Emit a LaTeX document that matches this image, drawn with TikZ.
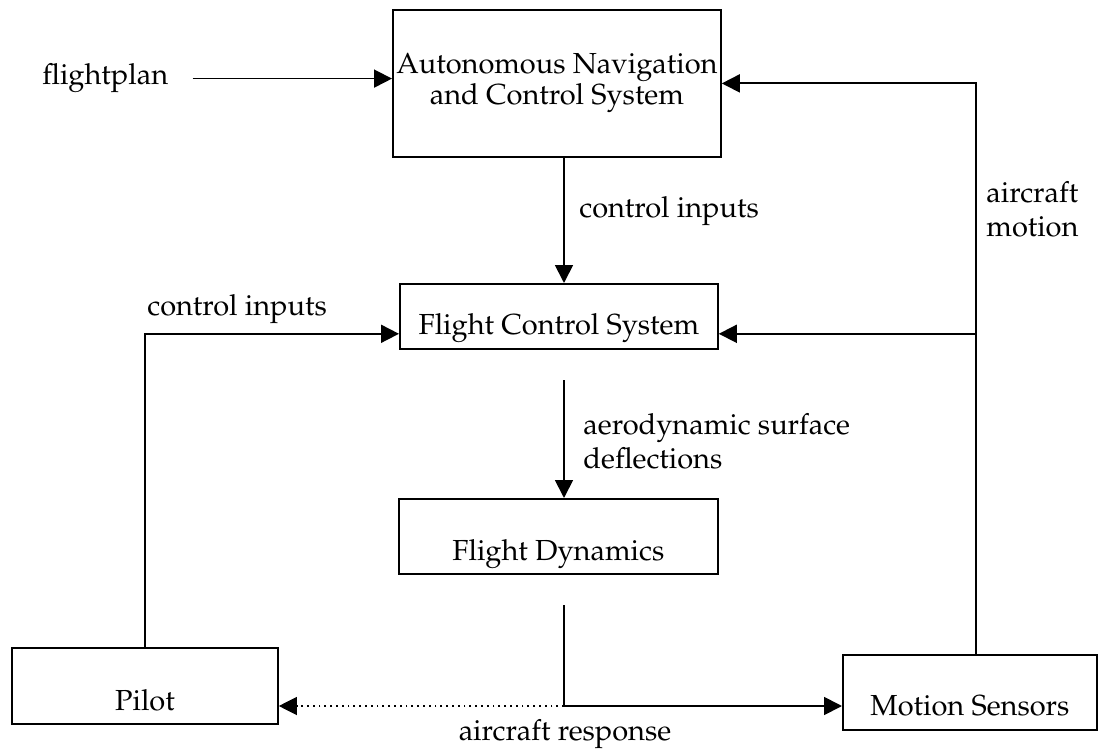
\documentclass[tikz,border=0pt]{standalone}
\usepackage[T1]{fontenc}
\usepackage{mathpazo}
\usepackage{tikz}
\usetikzlibrary{arrows.meta,positioning}

\begin{document}
\begin{tikzpicture}[x=0.5pt, y=-0.5pt,
    font=\fontsize{14.5}{17}\selectfont,
    block/.style={draw, line width=0.9pt, inner sep=0pt, anchor=north west},
    textpos/.style 2 args={text height=#1, text depth=#2},
    lbl/.style={inner sep=0pt},
    flow/.style={line width=0.9pt, -{Triangle[length=9pt,width=9pt]}},
    line/.style={line width=0.9pt}]
    \useasboundingbox (0,0) rectangle (1104,749);
    % blocks
    \node[block, minimum width=164pt, minimum height=73.5pt, align=center,
          font=\fontsize{14.5}{13.5}\selectfont] (ancs) at (392,9) {Autonomous Navigation\\and Control System};
    \node[block, minimum width=159pt, textpos={25.5pt}{7pt}] (fcs) at (399,283) {Flight Control System};
    \node[block, minimum width=159.5pt, textpos={31pt}{6.5pt}] (fd) at (398,498) {Flight Dynamics};
    \node[block, minimum width=133pt, textpos={31.5pt}{6.5pt}] (pilot) at (11,647) {Pilot};
    \node[block, minimum width=127pt, textpos={30.5pt}{7pt}] (ms) at (842,654) {Motion Sensors};
    % labels
    \node[lbl, anchor=base west] (plan) at (42,85) {flightplan};
    \node[lbl, anchor=base west] (ctrlup) at (579,218) {control inputs};
    \node[lbl, anchor=base west] (ctrlleft) at (147,315) {control inputs};
    \node[lbl, anchor=west, align=left] (aero) at (583,441) {aerodynamic surface\\deflections};
    \node[lbl, anchor=west, align=left] (motion) at (986,209) {aircraft\\motion};
    \node[lbl, anchor=base] (resp) at (565,740) {aircraft response};
    % helper points
    \coordinate (mid) at (564,0);
    \coordinate (fb) at (976,0);
    \coordinate (aerostart) at (564,380);
    \coordinate (respstart) at (564,605);
    \coordinate (respjoin) at (564,706);
    \coordinate (fcsright) at ([yshift=8pt]fcs.south east);
    \coordinate (fcsleft) at ([yshift=8pt]fcs.south west);
    % connectors
    \draw[flow] ([xshift=12pt]plan.east) -- (plan.east -| ancs.west);
    \draw[flow] (ancs.south -| mid) -- (fcs.north -| mid);
    \draw[flow] (aerostart) -- (fd.north -| mid);
    \draw[line] (respstart) -- (respjoin);
    \draw[flow] (respjoin) -- (respjoin -| ms.west);
    \draw[flow, dotted, line width=0.6pt] (respjoin) -- (respjoin -| pilot.east);
    \draw[flow] (ms.north -| fb) -- (fb |- ancs.east) -- (ancs.east);
    \draw[flow] (fb |- fcsright) -- (fcsright);
    \draw[flow] (pilot.north) -- (pilot.north |- fcsleft) -- (fcsleft);
\end{tikzpicture}
\end{document}
